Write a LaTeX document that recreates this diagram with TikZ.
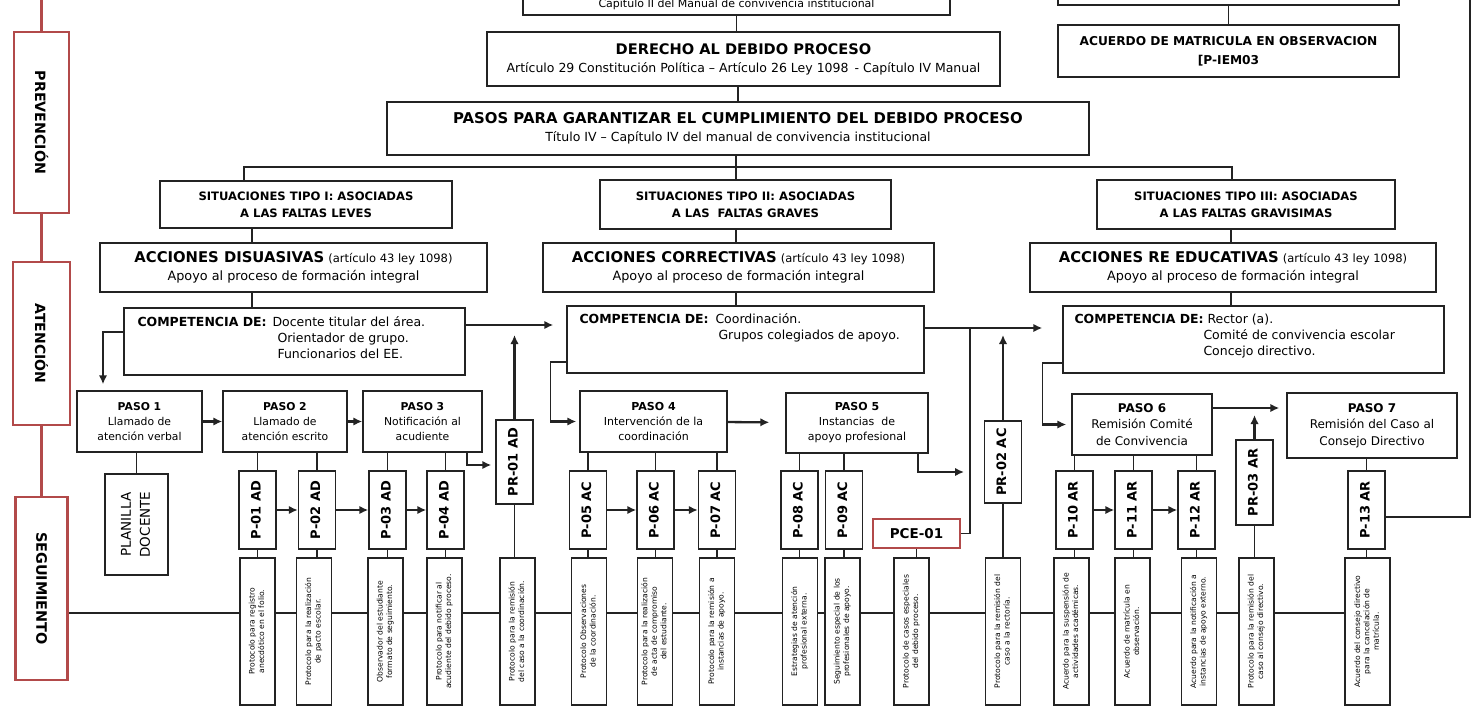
\documentclass[tikz,border=0pt]{standalone}
\usepackage{fontspec}
\setmainfont{DejaVu Sans}
\usepackage{graphicx}
\usetikzlibrary{arrows.meta,backgrounds}

\definecolor{frame}{RGB}{178,74,74}
\definecolor{ink}{RGB}{35,35,35}

\newcommand{\fs}[2]{\fontsize{#1}{#2}\selectfont}
\newcommand{\vtxt}[1]{\rotatebox{90}{\begin{tabular}{@{}c@{}}#1\end{tabular}}}

\tikzset{
  box/.style={draw=ink, line width=1.4pt, fill=white, inner sep=0pt, align=center},
  redbox/.style={draw=frame, line width=2.6pt, fill=white, inner sep=0pt},
  code/.style={box, minimum width=37pt, minimum height=78pt, font=\bfseries\fs{13}{15}},
  note/.style={box, minimum width=35pt, minimum height=147pt, font=\fs{7.6}{9.4}},
  link/.style={draw=ink, line width=1.1pt},
  arr/.style={draw=ink, line width=2.3pt, -{Latex[length=9pt,width=8.5pt]}},
}

\begin{document}
\begin{tikzpicture}[x=1pt, y=-1pt]
\useasboundingbox (0,0) rectangle (1479,708);
\clip (0,0) rectangle (1479,708);

% Side column
\node[redbox, minimum width=55pt, minimum height=181pt] (prev) at (41.5,122.5) {\rotatebox{-90}{\bfseries\fs{14.2}{16}PREVENCIÓN}};
\node[redbox, minimum width=57pt, minimum height=163pt] (aten) at (41.5,343.5) {\rotatebox{-90}{\bfseries\fs{14}{16}ATENCIÓN}};
\node[redbox, minimum width=52pt, minimum height=183pt] (seg) at (41.5,588.5) {\rotatebox{-90}{\bfseries\fs{14.4}{16}SEGUIMIENTO}};
\coordinate (redtop) at (41.5,-5);
\draw[frame, line width=2.6pt] (redtop) -- (prev) (prev) -- (aten) (aten) -- (seg);

% Top of the chart
\node[box, minimum width=427pt, minimum height=55pt] (cap) at (736.5,-12.5) {};
\node[font=\fs{11}{12}] (captxt) at (736.5,4) {Capítulo II del Manual de convivencia institucional};
\node[box, minimum width=513pt, minimum height=54pt, font=\fs{12.5}{18}] (der) at (743.5,59)
  {{\bfseries\fs{14.6}{18}DERECHO AL DEBIDO PROCESO}\\Artículo 29 Constitución Política – Artículo 26 Ley 1098 \,- Capítulo IV Manual};
\node[box, minimum width=702pt, minimum height=53pt, font=\fs{12.5}{18}] (pasos) at (738,128.5)
  {{\bfseries\fs{14.9}{18}PASOS PARA GARANTIZAR EL CUMPLIMIENTO DEL DEBIDO PROCESO}\\Título IV – Capítulo IV del manual de convivencia institucional};
\draw[link] (cap.south) -- (cap.south |- der.north);
\draw[link] (pasos.north |- der.south) -- (pasos.north);

\node[box, minimum width=341pt, minimum height=45pt] (rt) at (1228.5,-17.5) {};
\node[box, minimum width=341pt, minimum height=52pt, font=\bfseries\fs{12.2}{19}] (acu) at (1228.5,51)
  {ACUERDO DE MATRICULA EN OBSERVACION\\{[}P-IEM03};
\draw[link] (rt) -- (acu);

% Situaciones
\node[box, minimum width=292pt, minimum height=47pt, font=\bfseries\fs{11.6}{17}] (sit1) at (306,204.5)
  {SITUACIONES TIPO I: ASOCIADAS\\A LAS FALTAS LEVES};
\node[box, minimum width=291pt, minimum height=49pt, font=\bfseries\fs{11.6}{17}] (sit2) at (745.5,204.5)
  {SITUACIONES TIPO II: ASOCIADAS\\A LAS \ FALTAS GRAVES};
\node[box, minimum width=298pt, minimum height=49pt, font=\bfseries\fs{11.6}{17}] (sit3) at (1246,204.5)
  {SITUACIONES TIPO III: ASOCIADAS\\A LAS FALTAS GRAVISIMAS};
\coordinate (br) at (736,167);
\draw[link] (br |- pasos.south) -- (br);
\draw[link] ([xshift=-62pt]sit1.north) |- (br) -| ([xshift=-14pt]sit3.north);
\draw[link] (br) -- (br |- sit2.north);

% Acciones
\node[box, minimum width=387pt, minimum height=49pt, font=\fs{12.8}{18}] (ad) at (293.5,267.5)
  {{\bfseries\fs{14.8}{18}ACCIONES DISUASIVAS} {\fs{11.5}{18}(artículo 43 ley 1098)}\\Apoyo al proceso de formación integral};
\node[box, minimum width=391pt, minimum height=49pt, font=\fs{12.8}{18}] (ac) at (738.5,267.5)
  {{\bfseries\fs{14.8}{18}ACCIONES CORRECTIVAS} {\fs{11.5}{18}(artículo 43 ley 1098)}\\Apoyo al proceso de formación integral};
\node[box, minimum width=406pt, minimum height=49pt, font=\fs{12.8}{18}] (ar) at (1233,267.5)
  {{\bfseries\fs{14.8}{18}ACCIONES RE EDUCATIVAS} {\fs{11.5}{18}(artículo 43 ley 1098)}\\Apoyo al proceso de formación integral};

% Competencia
\node[box, minimum width=341pt, minimum height=67pt] (c1) at (294.5,341.5) {};
\node[box, minimum width=357pt, minimum height=67pt] (c2) at (745.5,339.5) {};
\node[box, minimum width=381pt, minimum height=67pt] (c3) at (1253.5,339.5) {};
\node[anchor=north west, inner sep=0pt, font=\fs{12.5}{16}] (c1t) at ([xshift=14pt,yshift=-8pt]c1.north west)
  {\begin{tabular}{@{}p{135pt}@{}l@{}}\textbf{COMPETENCIA DE:} & Docente titular del área.\\ & \hspace{5pt}Orientador de grupo.\\ & \hspace{5pt}Funcionarios del EE.\end{tabular}};
\node[anchor=north west, inner sep=0pt, font=\fs{12.5}{16}] (c2t) at ([xshift=13pt,yshift=-7pt]c2.north west)
  {\begin{tabular}{@{}p{136pt}@{}l@{}}\textbf{COMPETENCIA DE:} & Coordinación.\\ & \hspace{3pt}Grupos colegiados de apoyo.\end{tabular}};
\node[anchor=north west, inner sep=0pt, font=\fs{12.5}{16}] (c3t) at ([xshift=12pt,yshift=-7pt]c3.north west)
  {\begin{tabular}{@{}p{133pt}@{}l@{}}\textbf{COMPETENCIA DE:} & Rector (a).\\ & \hspace{-4pt}Comité de convivencia escolar\\ & \hspace{-4pt}Concejo directivo.\end{tabular}};

\draw[link] ([xshift=-54pt]sit1.south) coordinate (a1) -- (a1 |- ad.north);
\draw[link] (a1 |- ad.south) -- (a1 |- c1.north);
\draw[link] ([xshift=-9.5pt]sit2.south) coordinate (a2) -- (a2 |- ac.north);
\draw[link] (a2 |- ac.south) -- (a2 |- c2.north);
\draw[link] ([xshift=-15pt]sit3.south) coordinate (a3) -- (a3 |- ar.north);
\draw[link] (a3 |- ar.south) -- (a3 |- c3.north);

% Pasos
\node[box, minimum width=125pt, minimum height=61pt, font=\fs{10.8}{15}] (p1) at (139.5,421.5) {{\bfseries PASO 1}\\Llamado de\\atención verbal};
\node[box, minimum width=124pt, minimum height=61pt, font=\fs{10.8}{15}] (p2) at (285,421.5) {{\bfseries PASO 2}\\Llamado de\\atención escrito};
\node[box, minimum width=119pt, minimum height=61pt, font=\fs{10.8}{15}] (p3) at (422.5,421.5) {{\bfseries PASO 3}\\Notificación al\\acudiente};
\node[box, minimum width=147pt, minimum height=61pt, font=\fs{11}{15}] (p4) at (653.5,421.5) {{\bfseries PASO 4}\\Intervención de la\\coordinación};
\node[box, minimum width=142pt, minimum height=60pt, font=\fs{11}{15}] (p5) at (857,423) {{\bfseries PASO 5}\\Instancias \ de\\apoyo profesional};
\node[box, minimum width=140pt, minimum height=61pt, font=\fs{12}{16.5}] (p6) at (1142,424.5) {{\bfseries PASO 6}\\Remisión Comité\\de Convivencia};
\node[box, minimum width=170pt, minimum height=65pt, font=\fs{12}{16.5}] (p7) at (1372,425.5) {{\bfseries PASO 7}\\Remisión del Caso al\\Consejo Directivo};

% Codes
\node[box, minimum width=63pt, minimum height=101pt, font=\fs{13.5}{19}] (pl) at (136.5,524.5) {\vtxt{PLANILLA\\DOCENTE}};
\foreach \n/\x/\t in {p01/257.5/P-01 AD, p02/317/P-02 AD, p03/387.5/P-03 AD, p04/445.5/P-04 AD,
  p05/588/P-05 AC, p06/655.5/P-06 AC, p07/717/P-07 AC, p08/799.5/P-08 AC, p09/844/P-09 AC,
  p10/1074.5/P-10 AR, p11/1133.5/P-11 AR, p12/1196.5/P-12 AR, p13/1366.5/P-13 AR}
  \node[code] (\n) at (\x,510) {\vtxt{\t}};
\node[code, minimum height=84pt] (pr1) at (514.5,462) {\vtxt{PR-01 AD}};
\node[code, minimum height=82pt] (pr2) at (1003,462) {\vtxt{PR-02 AC}};
\node[code, minimum height=85pt] (pr3) at (1254.5,482.5) {\vtxt{PR-03 AR}};
\node[redbox, minimum width=87pt, minimum height=29pt, font=\bfseries\fs{13.5}{15}] (pce) at (916.5,533.5) {PCE-01};

\foreach \n/\s in {pl/p1, p01/p2, p02/p2, p03/p3, p04/p3, p05/p4, p06/p4, p07/p4,
  p08/p5, p09/p5, p10/p6, p11/p6, p12/p6, p13/p7}
  \draw[link] (\n.north |- \s.south) -- (\n.north);
\foreach \a/\b in {p01/p02, p02/p03, p03/p04, p05/p06, p06/p07, p10/p11, p11/p12}
  \draw[arr] (\a) -- (\b);

% Notes
\foreach \n/\x/\t in {
  b1/257.5/{Protocolo para registro\\anecdótico en el folio.},
  b2/314/{Protocolo para la realización\\de pacto escolar.},
  b3/385.5/{Observador del estudiante\\formato de seguimiento.},
  b4/444.5/{Protocolo para notificar al\\acudiente del debido proceso.},
  b5/517.5/{Protocolo para la remisión\\del caso a la coordinación.},
  b6/589/{Protocolo Observaciones\\de la coordinación.},
  b7/655/{Protocolo para la realización\\de acta de compromiso\\del estudiante.},
  b8/717/{Protocolo para la remisión a\\instancias de apoyo.},
  b9/800/{Estrategias de atención\\profesional externa.},
  b10/842.5/{Seguimiento especial de los\\profesionales de apoyo.},
  b11/911.5/{Protocolo de casos especiales\\del debido proceso.},
  b12/1003/{Protocolo para la remisión del\\caso a la rectoría.},
  b13/1071.5/{Acuerdo para la suspensión de\\actividades académicas.},
  b14/1132.5/{Acuerdo de matrícula en\\observación.},
  b15/1199/{Acuerdo para la notificación a\\instancias de apoyo externo.},
  b16/1256.5/{Protocolo para la remisión del\\caso al consejo directivo.}}
  \node[note] (\n) at (\x,631.5) {\vtxt{\t}};
\node[note, minimum width=45pt] (b17) at (1367.5,631.5) {\vtxt{Acuerdo del consejo directivo\\para la cancelación de\\matrícula.}};

\foreach \a/\b in {p01/b1, p02/b2, p03/b3, p04/b4, pr1/b5, p05/b6, p06/b7, p07/b8, p08/b9,
  p09/b10, pce/b11, pr2/b12, p10/b13, p11/b14, p12/b15, pr3/b16, p13/b17}
  \draw[link] (\a.south) -- (\a.south |- \b.north);

\begin{scope}[on background layer]
\draw[link] ([yshift=-24.5pt]seg.east) -- ([yshift=-24.5pt]seg.east -| b17.west);
\end{scope}

% Right return line
\coordinate (rtop) at (1470,-5);
\draw[link, line width=1.4pt] (rtop) |- ([yshift=-7pt]p13.east);

% Arrows between competencias
\draw[arr, shorten >=13pt] ([yshift=16.5pt]c1.east) coordinate (c1e) -- (c1e -| c2.west);
\draw[arr, shorten >=20pt] ([yshift=11.5pt]c2.east) coordinate (c2e) -- (c2e -| c3.west);
\coordinate (j2) at (970,328);
\draw[link] (j2) |- (pce.east);

% Arrows up from PR boxes
\draw[arr, shorten >=10pt] (pr1.north) -- (pr1.north |- c1e);
\draw[arr, shorten >=7pt] (pr2.north) -- (pr2.north |- c2e);

% Arrows between pasos
\draw[arr] (p1) -- (p2);
\draw[arr] (p2) -- (p3);
\draw[arr, shorten >=16pt] (p4) -- (p5);
\draw[arr, shorten >=7pt] ([yshift=16.5pt]p6.east) coordinate (p6e) -- (p6e -| p7.west);
\draw[arr, shorten >=7pt] (pr3.north) -- (pr3.north |- p6e);
\draw[arr, shorten >=4pt] ([xshift=44.5pt]p3.south) |- ([yshift=-3pt]pr1.west);
\coordinate (j3) at (964,472);
\draw[arr] ([xshift=61pt]p5.south) |- (j3);

% From competencia down to first paso
\draw[arr, shorten >=6pt] ([yshift=9.5pt]c1.west) -| ([xshift=-36.5pt]p1.north);
\draw[link] ([yshift=-22.5pt]c2.west) -- ++(-16,0) coordinate (k2) -- (k2 |- p4.west);
\draw[arr, shorten >=3pt] (k2 |- p4.west) -- (p4.west);
\draw[link] ([yshift=-23.5pt]c3.west) -- ++(-20,0) coordinate (k3) -- (k3 |- p6.west);
\draw[arr, shorten >=5pt] (k3 |- p6.west) -- (p6.west);

\end{tikzpicture}
\end{document}
